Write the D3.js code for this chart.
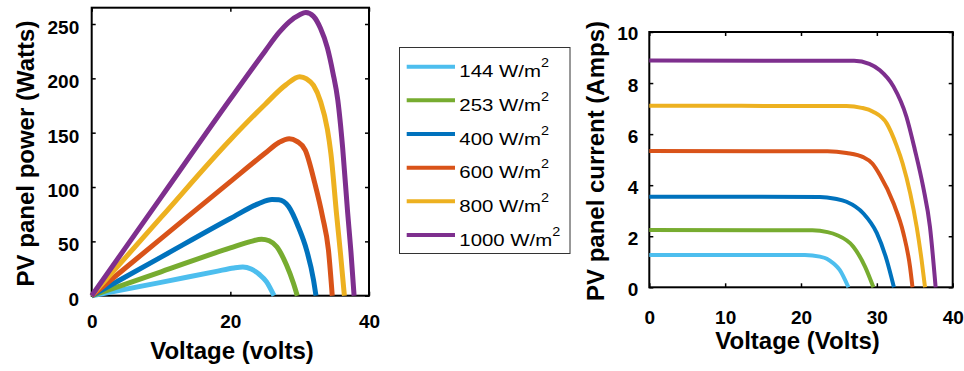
<!DOCTYPE html>
<html>
<head>
<meta charset="utf-8">
<script src="https://cdn.jsdelivr.net/npm/d3@7"></script>
<style>
  body { margin: 0; background: #fff; }
  svg { display: block; }
  text { font-family: Arial, "Liberation Sans", sans-serif; }
</style>
</head>
<body>
<svg id="chart" width="964" height="371"></svg>
<script>
// irradiance levels and their colours
const irradiance = [144, 253, 400, 600, 800, 1000];
const seriesColors = ['#4DBEEE', '#77AC30', '#0072BD', '#D95319', '#EDB120', '#7E2F8E'];

// P-V curves, [voltage, power]
const power144 = [[0, 0], [10, 12.3], [18, 22.4], [20.5, 25.5], [21.8, 26.3], [23, 24.5], [24.2, 19.5], [25.2, 13], [26.3, 0]];
const power253 = [[0, 0], [10, 22], [20, 44], [23, 50], [24.5, 52], [25.6, 50.5], [26.7, 45], [28.1, 28.2], [29.1, 11.4], [29.65, 0]];
const power400 = [[0, 0], [10, 35.5], [20, 71], [24, 84.5], [26, 88.5], [27, 88.3], [28.4, 82], [29.8, 63.5], [31, 42], [32, 14.4], [32.35, 0]];
const power600 = [[0, 0], [10, 52.5], [20, 105], [25, 131], [27, 141], [28.5, 144.5], [29.6, 142], [30.8, 134], [32.2, 103], [33.3, 72.7], [34.15, 42], [34.7, 0]];
const power800 = [[0, 0], [10, 72], [20, 143.5], [25, 176], [28, 194], [30, 201.5], [31, 199.5], [32, 193.5], [33, 179], [34, 153], [34.5, 131], [35.35, 73], [35.9, 38], [36.45, 0]];
const power1000 = [[0, 0], [10, 90.5], [20, 181], [25, 225], [27, 242], [28.5, 252], [30, 258.5], [30.9, 260.5], [32, 257], [33, 246], [34, 228], [34.8, 205], [35.5, 180], [36.2, 136], [36.9, 78], [37.4, 40], [37.85, 0]];

// I-V curves, [voltage, current]
const current144 = [[0, 1.27], [20.5, 1.265], [22.5, 1.2], [23.4, 1.12], [24.3, 0.93], [25.1, 0.68], [26.25, 0]];
const current253 = [[0, 2.24], [21.5, 2.23], [23.5, 2.16], [24.7, 2.05], [26.9, 1.59], [28.44, 0.81], [29.55, 0]];
const current400 = [[0, 3.55], [22.5, 3.54], [24.5, 3.47], [26, 3.35], [28.2, 2.9], [30, 2.12], [31.3, 1.07], [32.25, 0]];
const current600 = [[0, 5.34], [23.5, 5.33], [26, 5.26], [28.2, 5.1], [29.4, 4.85], [30.4, 4.4], [32.2, 3.29], [33.5, 2.12], [34.37, 0.81], [34.7, 0]];
const current800 = [[0, 7.11], [26, 7.1], [28, 7.03], [29.5, 6.88], [31.3, 6.42], [32.6, 5.55], [33.4, 4.85], [34.4, 3.68], [35.25, 2.37], [35.9, 1.07], [36.35, 0]];
const current1000 = [[0, 8.88], [27, 8.87], [29, 8.75], [30.4, 8.5], [32.2, 7.86], [33.9, 6.68], [35, 5.4], [36.1, 3.94], [37, 2.37], [37.75, 0]];

// tick values
const powerVoltTicks = [0, 20, 40];
const powerTicks = [0, 50, 100, 150, 200, 250];
const currentVoltTicks = [0, 10, 20, 30, 40];
const currentTicks = [0, 2, 4, 6, 8, 10];

const svg = d3.select('#chart');
svg.append('rect').attr('width', 964).attr('height', 371).attr('fill', '#fff');

function drawPanel(p) {
  const x = d3.scaleLinear().domain(p.xDomain).range([p.box.left, p.box.right]);
  const y = d3.scaleLinear().domain(p.yDomain).range([p.box.bottom, p.box.top]);
  const g = svg.append('g');

  const styleAxis = (sel) => {
    sel.select('.domain').remove();
    sel.attr('font-size', 19).attr('font-weight', 'bold')
      .attr('font-family', 'Arial, "Liberation Sans", sans-serif');
    sel.selectAll('.tick line').attr('stroke-width', 1.5);
    sel.selectAll('.tick text').attr('fill', '#000');
  };

  // ticks pointing inward on all four sides
  g.append('g')
    .attr('transform', `translate(0,${p.box.bottom})`)
    .call(d3.axisBottom(x).tickValues(p.xTicks).tickSizeInner(-4).tickSizeOuter(0).tickPadding(p.xPad))
    .call(styleAxis);
  g.append('g')
    .attr('transform', `translate(${p.box.left},0)`)
    .call(d3.axisLeft(y).tickValues(p.yTicks).tickSizeInner(-4).tickSizeOuter(0).tickPadding(p.yPad))
    .call(styleAxis)
    .selectAll('.tick text').attr('dy', p.yDy);
  g.append('g')
    .attr('transform', `translate(0,${p.box.top})`)
    .call(d3.axisTop(x).tickValues(p.xTicks).tickSizeInner(-4).tickSizeOuter(0).tickFormat(''))
    .call(styleAxis);
  g.append('g')
    .attr('transform', `translate(${p.box.right},0)`)
    .call(d3.axisRight(y).tickValues(p.yTicks).tickSizeInner(-4).tickSizeOuter(0).tickFormat(''))
    .call(styleAxis);

  g.append('rect')
    .attr('x', p.box.left).attr('y', p.box.top)
    .attr('width', p.box.right - p.box.left).attr('height', p.box.bottom - p.box.top)
    .attr('fill', 'none').attr('stroke', '#000').attr('stroke-width', 2);

  const line = d3.line().x(d => x(d[0])).y(d => y(d[1])).curve(d3.curveMonotoneX);
  g.append('g').selectAll('path')
    .data(p.curves)
    .join('path')
    .attr('d', line)
    .attr('fill', 'none')
    .attr('stroke', (d, i) => seriesColors[i])
    .attr('stroke-width', p.lineWidth)
    .attr('stroke-linejoin', 'round');

  // axis titles
  g.append('text')
    .attr('x', p.xTitlePos[0]).attr('y', p.xTitlePos[1])
    .attr('text-anchor', 'middle').attr('font-size', 24).attr('font-weight', 'bold')
    .text(p.xTitle);
  g.append('text')
    .attr('transform', `translate(${p.yTitlePos[0]},${p.yTitlePos[1]}) rotate(-90)`)
    .attr('text-anchor', 'middle').attr('font-size', 24).attr('font-weight', 'bold')
    .text(p.yTitle);
}

drawPanel({
  box: { left: 91.7, right: 369, top: 7.7, bottom: 295.7 },
  xDomain: [0, 40], yDomain: [0, 265],
  xTicks: powerVoltTicks, yTicks: powerTicks,
  xPad: 18.5, yPad: 12.5, yDy: '0.5em',
  curves: [power144, power253, power400, power600, power800, power1000],
  lineWidth: 5,
  xTitle: 'Voltage (volts)', xTitlePos: [232, 359],
  yTitle: 'PV panel power (Watts)', yTitlePos: [33.5, 153.5]
});

drawPanel({
  box: { left: 649.3, right: 952.7, top: 32, bottom: 287.3 },
  xDomain: [0, 40], yDomain: [0, 10],
  xTicks: currentVoltTicks, yTicks: currentTicks,
  xPad: 23, yPad: 11, yDy: '0.42em',
  curves: [current144, current253, current400, current600, current800, current1000],
  lineWidth: 4,
  xTitle: 'Voltage (Volts)', xTitlePos: [797.5, 348.5],
  yTitle: 'PV panel current (Amps)', yTitlePos: [604, 161]
});

// legend
const legend = svg.append('g');
legend.append('rect')
  .attr('x', 399.5).attr('y', 47.5).attr('width', 170.5).attr('height', 206)
  .attr('fill', '#fff').attr('stroke', '#333').attr('stroke-width', 1);

const rowY = d3.scalePoint().domain(irradiance).range([66.7, 235]);
const items = legend.selectAll('g.item').data(irradiance).join('g').attr('class', 'item');
items.append('line')
  .attr('x1', 406.7).attr('x2', 455)
  .attr('y1', d => rowY(d)).attr('y2', d => rowY(d))
  .attr('stroke', (d, i) => seriesColors[i]).attr('stroke-width', 4);
const labels = items.append('text')
  .attr('transform', d => `translate(459.3,${rowY(d) + 10.5}) scale(1.2,1)`)
  .attr('font-size', 17);
labels.append('tspan').text(d => `${d} W/m`);
labels.append('tspan').attr('dy', -10).attr('font-size', 12).text('2');
</script>
</body>
</html>
